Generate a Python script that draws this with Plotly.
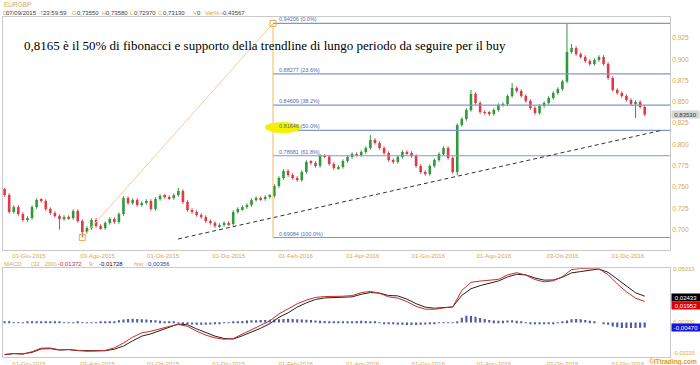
import numpy as np
import pandas as pd
import plotly.graph_objects as go

# ---------------- data ----------------
symbol = "EURGBP"
first_open = 0.7478
# one candle every 3 trading days, starting 2015-05-08
closes = [
    0.7407, 0.7208, 0.7266, 0.7184, 0.7114, 0.7137, 0.7266, 0.7349, 0.7337, 0.7243,
    0.7196, 0.7161, 0.7126, 0.7149, 0.7137, 0.7219, 0.7102, 0.6973, 0.7020, 0.7114,
    0.7043, 0.7020, 0.7079, 0.7126, 0.7090, 0.7184, 0.7372, 0.7313, 0.7349, 0.7290,
    0.7313, 0.7337, 0.7243, 0.7360, 0.7396, 0.7384, 0.7372, 0.7407, 0.7454, 0.7325,
    0.7231, 0.7208, 0.7173, 0.7149, 0.7102, 0.7079, 0.7043, 0.7055, 0.7079, 0.7067,
    0.7208, 0.7243, 0.7266, 0.7290, 0.7349, 0.7372, 0.7360, 0.7384, 0.7396, 0.7513,
    0.7607, 0.7689, 0.7642, 0.7607, 0.7583, 0.7677, 0.7795, 0.7783, 0.7748, 0.7865,
    0.7858, 0.7771, 0.7724, 0.7736, 0.7806, 0.7853, 0.7888, 0.7877, 0.7912, 0.7959,
    0.8053, 0.8018, 0.7959, 0.7900, 0.7818, 0.7795, 0.7853, 0.7912, 0.7900, 0.7865,
    0.7748, 0.7677, 0.7654, 0.7748, 0.7818, 0.7888, 0.7959, 0.7842, 0.7677, 0.8228,
    0.8299, 0.8405, 0.8593, 0.8487, 0.8381, 0.8370, 0.8358, 0.8405, 0.8464, 0.8475,
    0.8569, 0.8663, 0.8628, 0.8569, 0.8511, 0.8428, 0.8370, 0.8452, 0.8487, 0.8546,
    0.8604, 0.8651, 0.8740, 0.9086, 0.9132, 0.9060, 0.9027, 0.8980, 0.8945, 0.8992,
    0.9027, 0.8945, 0.8781, 0.8640, 0.8604, 0.8569, 0.8522, 0.8475, 0.8499, 0.8440,
    0.8353,
]
high_overrides = {0: 0.7490, 38: 0.7490, 80: 0.8110, 102: 0.8640, 111: 0.8722,
                  123: 0.94206, 124: 0.9180}
low_overrides = {12: 0.7000, 17: 0.69084, 99: 0.7640, 138: 0.8311}

# MACD (red) and signal (black), one point every 6 trading days
macd_line = [
    -0.0295, -0.0287, -0.0293, -0.0270, -0.0237, -0.0236, -0.0253, -0.0251, -0.0258, -0.0266,
    -0.0264, -0.0258, -0.0235, -0.0190, -0.0136, -0.0096, -0.0081, -0.0055, -0.0036, -0.0018,
    -0.0036, -0.0080, -0.0117, -0.0142, -0.0155, -0.0149, -0.0109, -0.0069, -0.0031, 0.0015,
    0.0079, 0.0123, 0.0173, 0.0207, 0.0232, 0.0240, 0.0239, 0.0243, 0.0249, 0.0276,
    0.0288, 0.0270, 0.0237, 0.0226, 0.0193, 0.0150, 0.0123, 0.0122, 0.0135, 0.0143,
    0.0296, 0.0372, 0.0383, 0.0388, 0.0399, 0.0440, 0.0461, 0.0438, 0.0397, 0.0376,
    0.0385, 0.0424, 0.0489, 0.0500, 0.0500, 0.0495, 0.0442, 0.0357, 0.0284, 0.0225,
    0.01952,
]
signal_line = [
    -0.0298, -0.0288, -0.0290, -0.0276, -0.0245, -0.0242, -0.0255, -0.0250, -0.0260, -0.0262,
    -0.0265, -0.0261, -0.0247, -0.0218, -0.0170, -0.0126, -0.0105, -0.0071, -0.0044, -0.0014,
    -0.0021, -0.0059, -0.0096, -0.0126, -0.0148, -0.0153, -0.0123, -0.0089, -0.0053, -0.0011,
    0.0048, 0.0089, 0.0142, 0.0182, 0.0213, 0.0227, 0.0230, 0.0235, 0.0237, 0.0261,
    0.0277, 0.0272, 0.0250, 0.0246, 0.0216, 0.0174, 0.0142, 0.0132, 0.0138, 0.0144,
    0.0251, 0.0312, 0.0341, 0.0364, 0.0384, 0.0421, 0.0446, 0.0440, 0.0412, 0.0392,
    0.0393, 0.0418, 0.0459, 0.0471, 0.0484, 0.0495, 0.0464, 0.0402, 0.0336, 0.0275,
    0.02433,
]
# histogram, one value per candle
macd_hist = [
    0.0003, 0.0002, 0.0001, -0.0002, -0.0003, 0.0002, 0.0006, 0.0009, 0.0008,
    0.0007, 0.0006, 0.0004, 0.0002,
    0.0001, -0.0001, 0.0001, 0.0002, -0.0002, -0.0004, -0.0002, 0.0001, 0.0002, 0.0003, 0.0006,
    0.0012, 0.0020, 0.0028, 0.0032, 0.0034, 0.0032, 0.0030, 0.0027, 0.0024, 0.0020, 0.0016, 0.0012, 0.0008, 0.0003,
    -0.0004, -0.0010, -0.0015, -0.0019, -0.0021, -0.0022, -0.0021, -0.0019, -0.0016, -0.0012, -0.0007, -0.0002,
    0.0004, 0.0009, 0.0014, 0.0018, 0.0020, 0.0021, 0.0022, 0.0024, 0.0026, 0.0028,
    0.0031, 0.0033, 0.0034, 0.0033, 0.0031, 0.0028, 0.0025, 0.0022, 0.0019, 0.0016,
    0.0013, 0.0011, 0.0009, 0.0008, 0.0008, 0.0010,
    0.0012, 0.0014, 0.0015, 0.0014, 0.0011, 0.0006,
    -0.0002, -0.0008, -0.0013, -0.0017, -0.0020, -0.0022, -0.0023, -0.0024, -0.0024, -0.0022,
    -0.0019, -0.0015, -0.0010, -0.0006, -0.0003,
    -0.0002, -0.0001, 0.0010,
    0.0045, 0.0062, 0.0060, 0.0052, 0.0042, 0.0032, 0.0024,
    0.0018, 0.0015, 0.0016, 0.0019, 0.0020, 0.0015, 0.0008,
    -0.0002, -0.0010, -0.0015, -0.0017, -0.0016, -0.0013, -0.0008, -0.0003,
    0.0006, 0.0018, 0.0030, 0.0033, 0.0030, 0.0024, 0.0016,
    0.0008, 0.0000, -0.0010,
    -0.0022, -0.0036, -0.0045, -0.0050, -0.0052, -0.0052, -0.0050, -0.0048, -0.0047,
]

fib_ratios = ["0.0%", "23.6%", "38.2%", "50.0%", "61.8%", "100.0%"]
fib_levels = [0.94206, 0.88277, 0.84609, 0.81646, 0.78681, 0.69084]
fib_anchor_t = [35.0, 160.1]          # trading days from 01-Giu-2015
fib_anchor_v = [0.69084, 0.94206]
trend_t = [97.8, 416.0]
trend_v = [0.6891, 0.8170]
last_price = 0.83530

tick_dates = ["2015-06-01", "2015-08-03", "2015-10-01", "2015-12-01", "2016-02-01",
              "2016-04-01", "2016-06-01", "2016-08-01", "2016-10-03", "2016-12-01"]
tick_labels = ["01-Giu-2015", "03-Ago-2015", "01-Ott-2015", "01-Dic-2015", "01-Feb-2016",
               "01-Apr-2016", "01-Giu-2016", "01-Ago-2016", "03-Ott-2016", "01-Dic-2016"]
price_ticks = [0.700, 0.725, 0.750, 0.775, 0.800, 0.825, 0.850, 0.875, 0.900, 0.925]
price_tick_labels = ["0,700", "0,725", "0,750", "0,775", "0,800", "0,825", "0,850",
                     "0,875", "0,900", "0,925"]

title_text = ("0,8165 è il 50% di fibonacci e supporto della trendline di lungo "
              "periodo da seguire per il buy")

# ---------------- derived ----------------
W, H = 700, 365
ref = np.datetime64("2015-06-01")
candle_dates = pd.bdate_range("2015-05-08", periods=3 * len(closes), freq="B")[::3]
t = np.busday_count(ref, candle_dates.values.astype("datetime64[D]")).astype(float)
tick_t = np.busday_count(ref, np.array(tick_dates, dtype="datetime64[D]")).astype(float)

opens = [first_open] + closes[:-1]
wick = 0.0020
highs = [max(o, c) + wick for o, c in zip(opens, closes)]
lows = [min(o, c) - wick for o, c in zip(opens, closes)]
for i, v in high_overrides.items():
    highs[i] = v
for i, v in low_overrides.items():
    lows[i] = v

GREEN = "#2f9a3a"
RED = "#df3b47"
TAN = "#d3a94f"
FIBC = "#7f98cc"
FIBT = "#4d6db0"

x_range = [-17.06, 420.6]


def pyp(p):
    return 1 - p / H


fig = go.Figure()

# candle bodies + wicks
for up, col in [(True, GREEN), (False, RED)]:
    idx = [i for i in range(len(closes)) if (closes[i] >= opens[i]) == up]
    wx, wy = [], []
    for i in idx:
        wx += [t[i], t[i], None]
        wy += [lows[i], highs[i], None]
    fig.add_trace(go.Scatter(x=wx, y=wy, mode="lines", line=dict(color=col, width=1),
                             xaxis="x", yaxis="y", hoverinfo="skip", showlegend=False))
    fig.add_trace(go.Bar(
        x=[t[i] for i in idx],
        y=[max(abs(closes[i] - opens[i]), 0.0006) for i in idx],
        base=[min(closes[i], opens[i]) for i in idx],
        width=1.7, marker=dict(color=col, line=dict(width=0)),
        xaxis="x", yaxis="y", hoverinfo="skip", showlegend=False))

# fibonacci lines
for lvl in fib_levels:
    fig.add_trace(go.Scatter(x=[fib_anchor_t[1], x_range[1]], y=[lvl, lvl], mode="lines",
                             line=dict(color=FIBC, width=1.2), xaxis="x", yaxis="y",
                             hoverinfo="skip", showlegend=False))
# fib tool: diagonal, vertical, anchor squares
fig.add_trace(go.Scatter(x=fib_anchor_t, y=fib_anchor_v, mode="lines",
                         line=dict(color="#f3cb98", width=1), xaxis="x", yaxis="y",
                         hoverinfo="skip", showlegend=False))
fig.add_trace(go.Scatter(x=[fib_anchor_t[1], fib_anchor_t[1]],
                         y=[fib_levels[-1], fib_levels[0]], mode="lines",
                         line=dict(color="#f0bd5c", width=1), xaxis="x", yaxis="y",
                         hoverinfo="skip", showlegend=False))
fig.add_trace(go.Scatter(x=fib_anchor_t, y=fib_anchor_v, mode="markers",
                         marker=dict(symbol="square-open", size=6, color="#e9b04c",
                                     line=dict(width=1)),
                         xaxis="x", yaxis="y", hoverinfo="skip", showlegend=False))
# trendline
fig.add_trace(go.Scatter(x=trend_t, y=trend_v, mode="lines",
                         line=dict(color="#333333", width=1, dash="4px,3px"),
                         xaxis="x", yaxis="y", hoverinfo="skip", showlegend=False))

# MACD panel
fig.add_trace(go.Bar(x=t, y=macd_hist, width=1.4, marker=dict(color="#4f5aaa", line=dict(width=0)),
                     xaxis="x2", yaxis="y2", hoverinfo="skip", showlegend=False))
fig.add_trace(go.Scatter(x=t[::2], y=signal_line, mode="lines", line=dict(color="#222222", width=1),
                         xaxis="x2", yaxis="y2", hoverinfo="skip", showlegend=False))
fig.add_trace(go.Scatter(x=t[::2], y=macd_line, mode="lines", line=dict(color="#cc2a2a", width=1),
                         xaxis="x2", yaxis="y2", hoverinfo="skip", showlegend=False))

axis_common = dict(showgrid=False, zeroline=False, showline=True, mirror=True,
                   linecolor="#c9c9c9", linewidth=1, ticks="", automargin=False)
xdom = [3 / W, 670 / W]
fig.update_layout(
    width=W, height=H, margin=dict(l=0, r=0, t=0, b=0), autosize=False,
    paper_bgcolor="white", plot_bgcolor="white", barmode="overlay",
    xaxis=dict(domain=xdom, range=x_range, anchor="y", tickvals=tick_t, ticktext=tick_labels,
               tickfont=dict(family="Liberation Sans", size=6, color=TAN), **axis_common),
    yaxis=dict(domain=[pyp(250), pyp(17)], range=[0.6762, 0.9496], side="right", anchor="x",
               tickvals=price_ticks, ticktext=price_tick_labels,
               tickfont=dict(family="Liberation Sans", size=6.5, color=TAN), **axis_common),
    xaxis2=dict(domain=xdom, range=x_range, anchor="y2", tickvals=tick_t, ticktext=tick_labels,
                tickfont=dict(family="Liberation Sans", size=6, color=TAN), **axis_common),
    yaxis2=dict(domain=[pyp(357.3), pyp(268.3)], range=[-0.0322, 0.05013], side="right",
                anchor="x2", showticklabels=False, **axis_common),
)

# yellow highlight ellipse
fig.add_shape(type="circle", xref="x", yref="y", x0=154.9, x1=178.5, y0=0.8135, y1=0.8264,
              fillcolor="#f5ef00", line=dict(width=0), layer="above")

ann = []


def txt(x, y, text, color, size=6, xanchor="left", family="Liberation Sans", **kw):
    d = dict(x=x / W, y=pyp(y), xref="paper", yref="paper", text=text, showarrow=False,
             xanchor=xanchor, yanchor="middle",
             font=dict(family=family, size=size, color=color))
    d.update(kw)
    ann.append(d)


# fib labels
for lvl, r in zip(fib_levels, fib_ratios):
    ann.append(dict(x=277 / W, xref="paper", y=lvl, yref="y", yanchor="bottom", xanchor="left",
                    text=f"{lvl:.5f} ({r})", showarrow=False, yshift=-1,
                    font=dict(family="Liberation Sans", size=5.5, color=FIBT)))

# header
txt(2, 4.5, symbol, TAN, size=6.5)
DARK = "#3c3c3c"
for x, s, c in [(1, "D", TAN), (4, "07/09/2015", DARK), (38, "T", TAN), (41, "23:59:59", DARK),
                (70, "O", TAN), (75, "0,73550", DARK), (100, "H", TAN), (104, "0,73580", DARK),
                (128, "L", TAN), (132, "0,72970", DARK), (156, "C", TAN), (161, "0,73130", DARK),
                (191, "V", TAN), (195, "0", DARK), (203, "Var%:", "#e49a3a"), (219, "-0,43567", DARK)]:
    txt(x, 12.7, s, c, size=6)

# big comment text
txt(22, 45, title_text, "#000000", size=13, family="Liberation Serif")

# MACD header
for x, s, c in [(2, "MACD", TAN), (29, "(32 , 200)", TAN), (56, "-0,01372", "#d02a2a"),
                (87, "9:", TAN), (97, "-0,01728", "#202020"), (132, "hist :", TAN),
                (146, "0,00356", "#2f3fa0")]:
    txt(x, 264, s, c, size=6)

# price box
ann.append(dict(x=671 / W, xref="paper", y=last_price, yref="y", xanchor="left", yanchor="middle",
                text="0,83530", showarrow=False, bgcolor="#d6d6d6", width=27, height=7, borderpad=0,
                font=dict(family="Liberation Sans", size=6, color="#333333")))

# MACD right labels
txt(671, 268.5, "0,05013", TAN, size=6)
txt(671, 322, "0,00000", TAN, size=6)
txt(671, 353, "-0,03220", TAN, size=5.5)
for y, s, bg in [(297.5, "0,02433", "#000000"), (305.3, "0,01952", "#e00000"),
                 (327.5, "-0,00470", "#1414e0")]:
    txt(671, y, s, "#ffffff", size=6, bgcolor=bg, width=28, height=7, borderpad=0)

# watermark
txt(699, 361.5, "<b>©ITtrading.com</b>", "#e09a1a", size=6.5, xanchor="right")

fig.update_layout(annotations=ann)
fig.write_html("out.html")
